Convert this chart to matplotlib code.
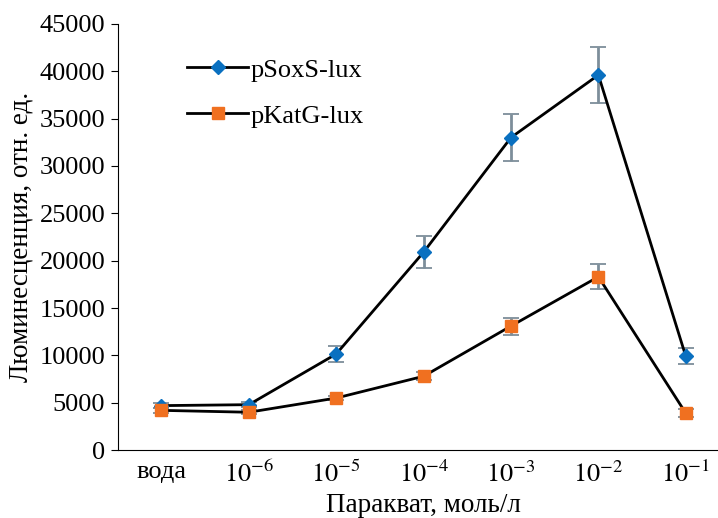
import matplotlib
matplotlib.use("Agg")
import matplotlib.pyplot as plt
from matplotlib.lines import Line2D
import numpy as np

plt.rcParams['font.family'] = ['Liberation Serif', 'DejaVu Serif']
plt.rcParams['mathtext.fontset'] = 'stix'

labels = ['вода', r'$10^{-6}$', r'$10^{-5}$', r'$10^{-4}$', r'$10^{-3}$', r'$10^{-2}$', r'$10^{-1}$']
sox = [4700, 4800, 10150, 20900, 33000, 39600, 9900]
sox_err = [300, 250, 800, 1700, 2500, 3000, 850]
kat = [4200, 4000, 5500, 7800, 13100, 18300, 3900]
kat_err = [250, 200, 250, 400, 900, 1300, 400]

x = np.arange(len(labels))

fig = plt.figure(figsize=(7.18, 5.18), dpi=100)
ax = fig.add_axes([0.164, 0.131, 0.852, 0.823])

handles = []
for y, e, mk, col, ms, name in [(sox, sox_err, 'D', '#0a70c0', 7, 'pSoxS-lux'),
                                 (kat, kat_err, 's', '#f07020', 9, 'pKatG-lux')]:
    line, caps, bars = ax.errorbar(x, y, yerr=e, color='black', lw=2, marker=mk, ms=ms,
                                   mfc=col, mec=col, ecolor='#7d8e9a', elinewidth=2,
                                   capsize=6, capthick=1.3, zorder=3)
    for c in caps:
        c.set_color('black')
    handles.append(Line2D([], [], color='black', lw=2, marker=mk, ms=ms, mfc=col, mec=col, label=name))

ax.set_xlim(-0.5, 6.5)
ax.set_ylim(0, 45000)
ax.set_yticks(np.arange(0, 45001, 5000))
ax.set_xticks(x)
ax.set_xticklabels(labels)
ax.tick_params(axis='x', length=0, pad=8, labelsize=19)
ax.tick_params(axis='y', length=5, labelsize=19, direction='out', pad=4)
ax.spines['top'].set_visible(False)
ax.spines['right'].set_visible(False)
ax.set_ylabel('Люминесценция, отн. ед.', fontsize=19.5, labelpad=4)
ax.set_xlabel('Паракват, моль/л', fontsize=19.5, labelpad=4)

ax.legend(handles=handles, loc='upper left', bbox_to_anchor=(0.075, 0.975), frameon=False, fontsize=19,
          handlelength=2.3, labelspacing=0.85, handletextpad=0.1)

fig.savefig('out.png', dpi=100)
